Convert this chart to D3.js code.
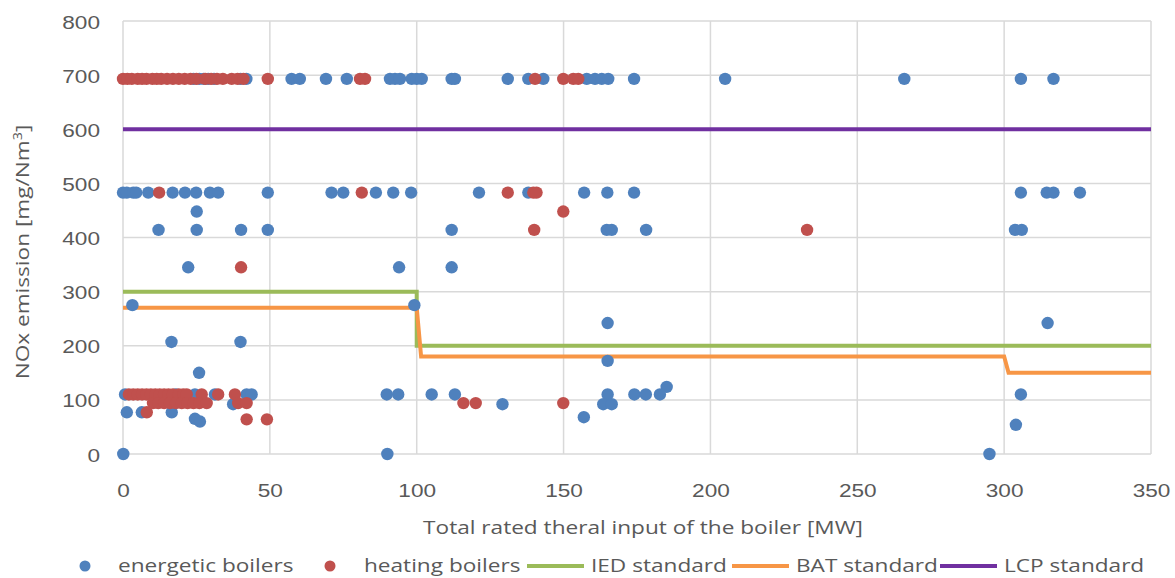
<!DOCTYPE html>
<html>
<head>
<meta charset="utf-8">
<script src="https://cdn.jsdelivr.net/npm/d3@7"></script>
<style>
  html, body { margin: 0; padding: 0; background: #fff; }
  svg { display: block; font-family: "Open Sans", "Liberation Sans", sans-serif; }
</style>
</head>
<body>
<svg id="chart" width="1175" height="578"></svg>
<script>
// Boiler capacity [MW] vs. NOx emission [mg/Nm3]
const energeticX = [
  24, 26, 27.5, 29, 31, 40, 42, 57.4, 60.2, 69.1, 76.2, 90.9, 92.6, 94.3, 98.3, 100, 101.7,
  111.9, 113, 131, 138, 143.1, 157.9, 160.7, 163, 165.2, 174, 205, 266, 305.7, 316.8,
  0, 1.3, 3.5, 4.5, 8.6, 16.9, 21.1, 24.9, 29.6, 32.4, 49.3, 71, 75, 86.1, 92, 98.1, 121.2,
  138, 157, 164.9, 174, 305.7, 314.5, 316.8, 325.8,
  25.1,
  12.1, 25.1, 40.2, 49.3, 111.9, 164.7, 166.4, 178.1, 303.7, 306,
  22.2, 94, 111.9,
  3.2, 99.2,
  165, 314.8,
  16.5, 40,
  165, 25.9, 185.1,
  0.7, 18, 24.5, 31.3, 42.1, 43.8, 89.8, 93.7, 105.1, 113, 165, 174.1, 178, 182.8, 305.7,
  37.5, 129.2, 163.5, 166.4,
  1.3, 6.4, 16.6,
  24.5, 26.2, 156.9, 304,
  0.1, 90, 295
];
const energeticY = [
  693, 693, 693, 693, 693, 693, 693, 693, 693, 693, 693, 693, 693, 693, 693, 693, 693,
  693, 693, 693, 693, 693, 693, 693, 693, 693, 693, 693, 693, 693, 693,
  483, 483, 483, 483, 483, 483, 483, 483, 483, 483, 483, 483, 483, 483, 483, 483, 483,
  483, 483, 483, 483, 483, 483, 483, 483,
  448,
  414, 414, 414, 414, 414, 414, 414, 414, 414, 414,
  345, 345, 345,
  275, 275,
  242, 242,
  207, 207,
  172, 150, 124,
  110, 110, 110, 110, 110, 110, 110, 110, 110, 110, 110, 110, 110, 110, 110,
  92, 92, 92, 92,
  77, 77, 77,
  65, 60, 68, 54,
  0, 0, 0
];

const heatingX = [
  0, 1.5, 3, 5, 6.5, 8, 10, 11.5, 13, 15, 17, 19, 21, 23, 25, 28, 30, 32, 34, 37, 39, 41,
  49.3, 80.7, 82.4, 140.3, 149.9, 153.3, 155,
  12.3, 81.3, 131, 139.7, 140.8,
  149.9,
  140, 232.9,
  40.2,
  2, 3.5, 5, 6.5, 8, 9.5, 11, 12.5, 14, 15.5, 17, 19, 20.5, 21.7, 26.8, 32.4, 38.1,
  10.2, 12, 14, 16, 18, 20, 22, 24, 26, 28.5, 39.2, 42.1, 115.9, 120.1, 149.9,
  8.1, 42.1, 49
];
const heatingY = [
  693, 693, 693, 693, 693, 693, 693, 693, 693, 693, 693, 693, 693, 693, 693, 693, 693, 693, 693, 693, 693, 693,
  693, 693, 693, 693, 693, 693, 693,
  483, 483, 483, 483, 483,
  448,
  414, 414,
  345,
  110, 110, 110, 110, 110, 110, 110, 110, 110, 110, 110, 110, 110, 110, 110, 110, 110,
  94, 94, 94, 94, 94, 94, 94, 94, 94, 94, 94, 94, 94, 94, 94,
  77, 64, 64
];

// Emission limit standards (step lines)
const iedX = [0, 100, 100, 350];
const iedY = [300, 300, 200, 200];
const batX = [0, 100, 101.5, 300, 301.5, 350];
const batY = [270, 270, 180, 180, 150, 150];
const lcpX = [0, 350];
const lcpY = [600, 600];

const xTicks = [0, 50, 100, 150, 200, 250, 300, 350];
const yTicks = [0, 100, 200, 300, 400, 500, 600, 700, 800];

const seriesNames = ["energetic boilers", "heating boilers", "IED standard", "BAT standard", "LCP standard"];
const colors = {
  energetic: "#4f81bd",
  heating: "#c0504d",
  ied: "#9bbb59",
  bat: "#f79646",
  lcp: "#7030a0"
};

const svg = d3.select("#chart");
const x = d3.scaleLinear().domain([0, 350]).range([123, 1151]);
const y = d3.scaleLinear().domain([0, 800]).range([454, 21]);

const textColor = "#595959";
const gridColor = "#d9d9d9";
const fontSize = 19;
const stretch = 1.19;   // wide lettering

// Text with horizontally widened glyphs, placed at (tx, ty) with optional rotation
function wideText(parent, tx, ty, anchor, str, rotate) {
  const t = parent.append("text")
    .attr("transform", `translate(${tx},${ty})` + (rotate ? ` rotate(${rotate})` : "") + ` scale(${stretch},1)`)
    .attr("text-anchor", anchor)
    .attr("fill", textColor)
    .style("font-size", fontSize + "px");
  if (str !== null) t.text(str);
  return t;
}

// Gridlines
svg.append("g").selectAll("line").data(yTicks).join("line")
  .attr("x1", x(0)).attr("x2", x(350))
  .attr("y1", d => y(d)).attr("y2", d => y(d))
  .attr("stroke", gridColor).attr("stroke-width", 1.5);
svg.append("g").selectAll("line").data(xTicks).join("line")
  .attr("x1", d => x(d)).attr("x2", d => x(d))
  .attr("y1", y(0)).attr("y2", y(800))
  .attr("stroke", gridColor).attr("stroke-width", 1.5);

// Axes built from the scales; tick labels redrawn with wide lettering
const yAxis = svg.append("g").attr("transform", `translate(${x(0)},0)`)
  .call(d3.axisLeft(y).tickValues(yTicks).tickSize(0).tickFormat(d3.format("d")));
const xAxis = svg.append("g").attr("transform", `translate(0,${y(0)})`)
  .call(d3.axisBottom(x).tickValues(xTicks).tickSize(0).tickFormat(d3.format("d")));
yAxis.select(".domain").remove();
xAxis.select(".domain").remove();
yAxis.selectAll(".tick text").remove();
xAxis.selectAll(".tick text").remove();
yAxis.selectAll(".tick").each(function(d) {
  wideText(d3.select(this), -23, 7, "end", d3.format("d")(d));
});
xAxis.selectAll(".tick").each(function(d) {
  wideText(d3.select(this), 0, 43, "middle", d3.format("d")(d));
});

// Standard lines
const line = d3.line().x(d => x(d[0])).y(d => y(d[1]));
const lineSeries = [
  { xs: iedX, ys: iedY, color: colors.ied },
  { xs: batX, ys: batY, color: colors.bat },
  { xs: lcpX, ys: lcpY, color: colors.lcp }
];
svg.append("g").selectAll("path").data(lineSeries).join("path")
  .attr("d", s => line(s.xs.map((v, i) => [v, s.ys[i]])))
  .attr("fill", "none").attr("stroke", s => s.color).attr("stroke-width", 4);

// Scatter points
function dots(xs, ys, color) {
  svg.append("g").selectAll("circle").data(xs.map((v, i) => [v, ys[i]])).join("circle")
    .attr("cx", d => x(d[0])).attr("cy", d => y(d[1])).attr("r", 6.2)
    .attr("fill", color);
}
dots(energeticX, energeticY, colors.energetic);
dots(heatingX, heatingY, colors.heating);

// Axis titles
wideText(svg, 643, 534, "middle", "Total rated theral input of the boiler [MW]");
const yt = wideText(svg, 29, 252, "middle", null, -90);
yt.append("tspan").text("NOx emission [mg/Nm");
yt.append("tspan").attr("dy", -7).style("font-size", "12px").text("3");
yt.append("tspan").attr("dy", 7).text("]");

// Legend
const legend = svg.append("g");
const ly = 566;
const legendItems = [
  { type: "dot", color: colors.energetic, mx: 85, tx: 118 },
  { type: "dot", color: colors.heating, mx: 330, tx: 364 },
  { type: "line", color: colors.ied, mx: 527, tx: 591 },
  { type: "line", color: colors.bat, mx: 732, tx: 796 },
  { type: "line", color: colors.lcp, mx: 940, tx: 1004 }
];
legendItems.forEach((it, i) => {
  if (it.type === "dot") {
    legend.append("circle").attr("cx", it.mx).attr("cy", ly).attr("r", 5.5).attr("fill", it.color);
  } else {
    legend.append("line").attr("x1", it.mx).attr("x2", it.mx + 57)
      .attr("y1", ly).attr("y2", ly).attr("stroke", it.color).attr("stroke-width", 4);
  }
  wideText(legend, it.tx, ly + 6, "start", seriesNames[i]);
});
</script>
</body>
</html>
